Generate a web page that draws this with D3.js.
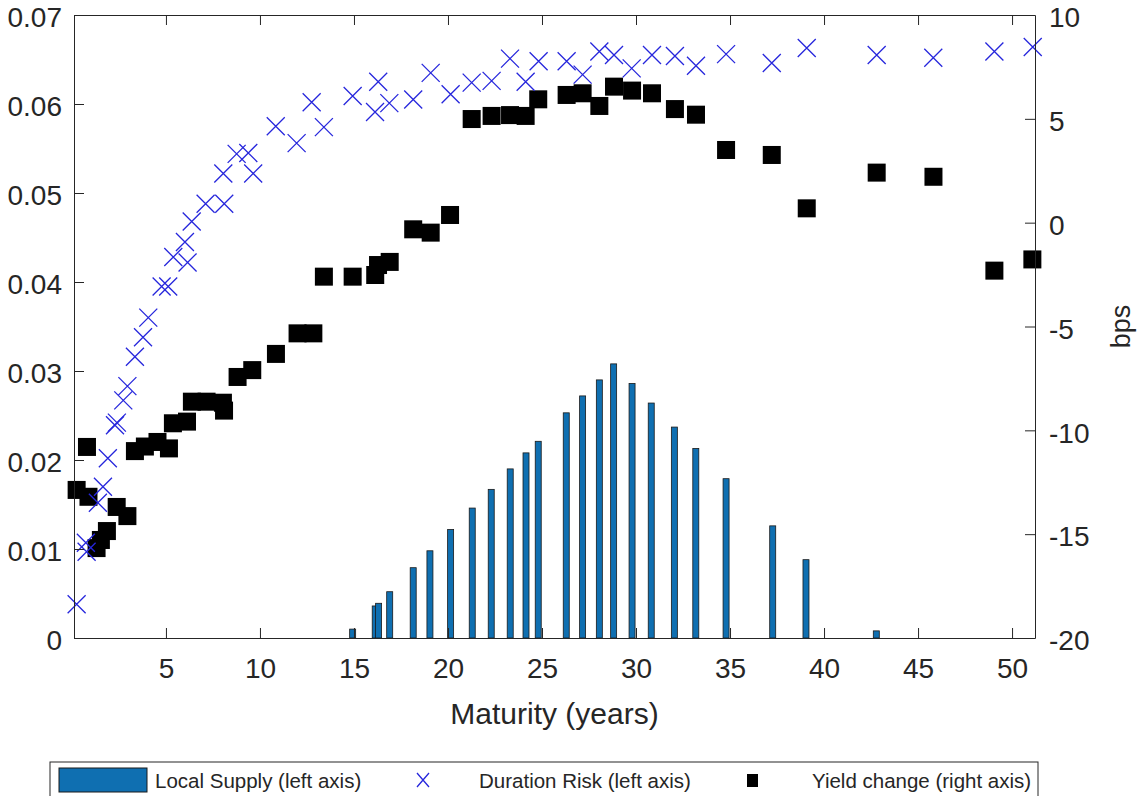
<!DOCTYPE html>
<html>
<head>
<meta charset="utf-8">
<script src="https://cdn.jsdelivr.net/npm/d3@7"></script>
<style>
  body { margin: 0; background: #fff; }
  text { font-family: "Liberation Sans", Arial, Helvetica, sans-serif; fill: #262626; }
  .axis path, .axis line { stroke: #262626; stroke-width: 1; }
</style>
</head>
<body>
<div id="chart"></div>
<script>
// maturities (years) and values
var supplyMat = [14.93, 16.13, 16.31, 16.90, 18.15, 19.04, 20.14, 21.29, 22.30, 23.31, 24.15, 24.80,
  26.29, 27.16, 28.05, 28.81, 29.79, 30.81, 32.04, 33.18, 34.79, 37.27, 39.04, 42.78];
var supplyVal = [0.0010, 0.0036, 0.0039, 0.0052, 0.0079, 0.0098, 0.0122, 0.0146, 0.0167, 0.0190, 0.0208, 0.0221,
  0.0253, 0.0272, 0.0290, 0.0308, 0.0286, 0.0264, 0.0237, 0.0213, 0.0179, 0.0126, 0.0088, 0.0008];

var durationMat = [0.25, 0.74, 0.78, 1.38, 1.65, 1.91, 2.29, 2.39, 2.73, 2.95, 3.35, 3.78, 4.06, 4.77, 5.12,
  5.39, 6.01, 6.15, 6.37, 7.11, 8.05, 8.10, 8.76, 9.38, 9.64, 10.84, 11.95, 12.75, 13.40, 14.93, 16.12,
  16.29, 16.88, 18.15, 19.08, 20.14, 21.26, 22.32, 23.30, 24.13, 24.82, 26.31, 27.16, 28.05, 28.83, 29.77,
  30.85, 32.07, 33.19, 34.79, 37.22, 39.08, 42.80, 45.81, 49.06, 51.10];
var durationRisk = [0.0038, 0.0107, 0.0097, 0.0152, 0.0170, 0.0202, 0.0239, 0.0242, 0.0267, 0.0283, 0.0316,
  0.0338, 0.0360, 0.0395, 0.0395, 0.0428, 0.0445, 0.0422, 0.0468, 0.0488, 0.0522, 0.0488, 0.0544, 0.0545,
  0.0522, 0.0575, 0.0556, 0.0602, 0.0574, 0.0609, 0.0591, 0.0625, 0.0601, 0.0605, 0.0635, 0.0611, 0.0624,
  0.0626, 0.0651, 0.0625, 0.0648, 0.0648, 0.0633, 0.0659, 0.0655, 0.0640, 0.0655, 0.0654, 0.0643, 0.0656,
  0.0646, 0.0663, 0.0655, 0.0652, 0.0659, 0.0664];

var yieldMat = [0.25, 0.80, 0.88, 1.31, 1.54, 1.86, 2.38, 2.95, 3.35, 3.88, 4.55, 5.16, 5.37, 6.12, 6.38,
  7.16, 8.03, 8.09, 8.81, 9.59, 10.85, 12.00, 12.84, 13.40, 14.93, 16.13, 16.28, 16.90, 18.15, 19.08, 20.11,
  21.26, 22.32, 23.30, 24.13, 24.80, 26.31, 27.16, 28.05, 28.83, 29.79, 30.85, 32.07, 33.19, 34.79, 37.22,
  39.08, 42.80, 45.82, 49.06, 51.08];
var yieldChange = [-12.87, -10.80, -13.20, -15.67, -15.28, -14.85, -13.69, -14.13, -11.00, -10.78, -10.56,
  -10.87, -9.66, -9.58, -8.62, -8.62, -8.67, -9.05, -7.43, -7.10, -6.32, -5.33, -5.33, -2.60, -2.60, -2.52,
  -2.04, -1.89, -0.32, -0.48, 0.37, 4.99, 5.14, 5.18, 5.14, 5.94, 6.15, 6.23, 5.62, 6.55, 6.36, 6.23, 5.47,
  5.20, 3.50, 3.26, 0.69, 2.41, 2.21, -2.31, -1.77];

var xTicks = [5, 10, 15, 20, 25, 30, 35, 40, 45, 50];
var leftTicks = [0, 0.01, 0.02, 0.03, 0.04, 0.05, 0.06, 0.07];
var rightTicks = [-20, -15, -10, -5, 0, 5, 10];
var legendLabels = ["Local Supply (left axis)", "Duration Risk (left axis)", "Yield change (right axis)"];

var width = 1138, height = 796;
// plot box ("top" is a reserved window property, so use other names)
var plotLeft = 74, plotRight = 1035, plotTop = 15, plotBottom = 638;

var svg = d3.select("#chart").append("svg")
  .attr("width", width)
  .attr("height", height);

var x = d3.scaleLinear().domain([0.11, 51.22]).range([plotLeft, plotRight]);
var yL = d3.scaleLinear().domain([0, 0.07]).range([plotBottom, plotTop]);
var yR = d3.scaleLinear().domain([-20, 10]).range([plotBottom, plotTop]);

// bars (local supply)
var barW = 6;
svg.append("g").selectAll("rect")
  .data(supplyMat)
  .enter().append("rect")
  .attr("x", function(d) { return x(d) - barW / 2; })
  .attr("y", function(d, i) { return yL(supplyVal[i]); })
  .attr("width", barW)
  .attr("height", function(d, i) { return yL(0) - yL(supplyVal[i]); })
  .attr("fill", "#0f6fb1")
  .attr("stroke", "#1a1a1a")
  .attr("stroke-width", 0.8);

// squares (yield change, right axis)
var sq = 18;
svg.append("g").selectAll("rect")
  .data(yieldMat)
  .enter().append("rect")
  .attr("x", function(d) { return x(d) - sq / 2; })
  .attr("y", function(d, i) { return yR(yieldChange[i]) - sq / 2; })
  .attr("width", sq)
  .attr("height", sq)
  .attr("fill", "#000");

// crosses (duration risk, left axis)
var cr = 9;
svg.append("g").selectAll("path")
  .data(durationMat)
  .enter().append("path")
  .attr("transform", function(d, i) { return "translate(" + x(d) + "," + yL(durationRisk[i]) + ")"; })
  .attr("d", "M" + -cr + "," + -cr + "L" + cr + "," + cr + "M" + -cr + "," + cr + "L" + cr + "," + -cr)
  .attr("stroke", "#2626dc")
  .attr("stroke-width", 1.3)
  .attr("fill", "none");

// axes
var fs = "28px";
var gx = svg.append("g").attr("class", "axis")
  .attr("transform", "translate(0," + plotBottom + ")")
  .call(d3.axisBottom(x).tickValues(xTicks).tickSizeInner(-10).tickSizeOuter(0).tickPadding(20));
gx.selectAll("text").style("font-size", fs);

svg.append("g").attr("class", "axis")
  .attr("transform", "translate(0," + plotTop + ")")
  .call(d3.axisTop(x).tickValues(xTicks).tickSizeInner(-10).tickSizeOuter(0).tickFormat(""));

var gl = svg.append("g").attr("class", "axis")
  .attr("transform", "translate(" + plotLeft + ",0)")
  .call(d3.axisLeft(yL).tickValues(leftTicks).tickSizeInner(-10).tickSizeOuter(0).tickPadding(12)
    .tickFormat(function(d) { return d === 0 ? "0" : d3.format(".2f")(d); }));
gl.selectAll("text").style("font-size", fs).attr("dy", "0.42em");

// plain hyphen for negatives, as in the original
var gr = svg.append("g").attr("class", "axis")
  .attr("transform", "translate(" + plotRight + ",0)")
  .call(d3.axisRight(yR).tickValues(rightTicks).tickSizeInner(-10).tickSizeOuter(0).tickPadding(14)
    .tickFormat(function(d) { return String(d); }));
gr.selectAll("text").style("font-size", fs).attr("dy", "0.42em");

svg.selectAll(".axis text").style("fill", "#262626").style("font-family", "'Liberation Sans', Arial, sans-serif");

// axis labels
svg.append("text")
  .attr("x", (plotLeft + plotRight) / 2)
  .attr("y", 724)
  .attr("text-anchor", "middle")
  .style("font-size", "30px")
  .text("Maturity (years)");

svg.append("text")
  .attr("transform", "translate(1130," + (plotTop + plotBottom) / 2 + ") rotate(-90)")
  .attr("text-anchor", "middle")
  .style("font-size", "27px")
  .text("bps");

// legend
var lg = svg.append("g");
lg.append("rect")
  .attr("x", 50).attr("y", 762).attr("width", 988).attr("height", 44)
  .attr("fill", "#fff").attr("stroke", "#262626").attr("stroke-width", 1);
lg.append("rect")
  .attr("x", 59).attr("y", 768).attr("width", 88).attr("height", 24)
  .attr("fill", "#0f6fb1").attr("stroke", "#1a1a1a").attr("stroke-width", 1);
lg.append("path")
  .attr("d", "M417,773L429,787M417,787L429,773")
  .attr("stroke", "#2626dc").attr("stroke-width", 1.3);
lg.append("rect")
  .attr("x", 747).attr("y", 774).attr("width", 11).attr("height", 13)
  .attr("fill", "#000");
var lx = [155, 479, 812];
lg.selectAll("text.lab")
  .data(legendLabels)
  .enter().append("text")
  .attr("class", "lab")
  .attr("x", function(d, i) { return lx[i]; })
  .attr("y", 788)
  .style("font-size", "20.5px")
  .text(function(d) { return d; });
</script>
</body>
</html>
